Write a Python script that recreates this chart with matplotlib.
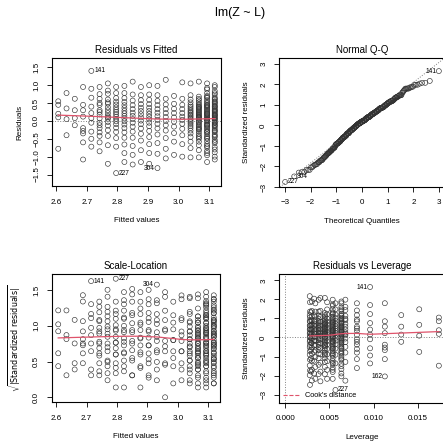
import statistics

import matplotlib
matplotlib.use("Agg")
import matplotlib.pyplot as plt
import numpy as np

plt.rcParams["font.family"] = ["Liberation Sans", "DejaVu Sans"]

W, H = 443, 447
RED = "#DF536B"

# fitted value of each level of L
fitted_levels = [2.607, 2.634, 2.661, 2.688, 2.715, 2.742, 2.769, 2.796, 2.823, 2.850,
                 2.877, 2.904, 2.931, 2.958, 2.985, 3.012, 3.039, 3.066, 3.093, 3.118]

resid_00 = [0.55, 0.45, 0.20, 0.10, -0.78]
resid_01 = [0.78, 0.35, 0.05, -0.40]
resid_02 = [0.62, 0.30, 0.08, -0.12]
resid_03 = [0.95, 0.45, 0.30, 0.12, -0.20, -0.28, -0.35, -0.60, -1.08]
resid_04 = [1.40, 0.90, 0.65, 0.40, 0.22, 0.08, -0.05, -0.30, -0.50, -0.72]
resid_05 = [0.95, 0.62, 0.50, 0.45, 0.30, 0.18, 0.07, -0.05, -0.20, -0.42, -0.60, -0.85,
            0.75, 0.25, -0.12, -0.32]
resid_06 = [1.05, 0.76, 0.60, 0.48, 0.38, 0.30, 0.22, 0.14, 0.06, -0.03, -0.13, -0.26,
            -0.42, -0.68, -1.20, 0.85, 0.52, 0.10]
resid_07 = [0.95, 0.78, 0.64, 0.54, 0.46, 0.38, 0.31, 0.25, 0.19, 0.12, 0.06, -0.01,
            -0.09, -0.19, -0.31, -0.48, -0.72, -1.46]
resid_08 = [0.98, 0.78, 0.64, 0.53, 0.44, 0.36, 0.28, 0.21, 0.14, 0.07, -0.01, -0.10,
            -0.20, -0.32, -0.47, -0.66, -0.90, -1.15]
resid_09 = [1.10, 0.74, 0.57, 0.44, 0.33, 0.23, 0.14, 0.05, -0.05, -0.16, -0.30, -0.47,
            -0.70, -0.95, -1.22]
resid_10 = [0.95, 0.72, 0.58, 0.47, 0.37, 0.28, 0.19, 0.10, 0.01, -0.09, -0.21, -0.36,
            -0.55, -0.82, -1.15]
resid_11 = [1.00, 0.74, 0.59, 0.47, 0.37, 0.28, 0.20, 0.12, 0.04, -0.05, -0.15, -0.28,
            -0.45, -0.65, -0.90, -1.20]
resid_12 = [0.98, 0.72, 0.56, 0.44, 0.33, 0.23, 0.13, 0.03, -0.08, -0.21, -0.38, -0.62,
            -0.92, -1.32]
resid_13 = [1.15, 0.62, 0.46, 0.33, 0.22, 0.11, 0.00, -0.12, -0.27, -0.48, -0.78, -1.05]
resid_14 = [0.70, 0.48, 0.34, 0.22, 0.10, -0.02, -0.16, -0.34, -0.58, -0.95]
resid_15 = [1.08, 0.62, 0.45, 0.33, 0.22, 0.12, 0.03, -0.08, -0.22, -0.40, -0.65, -1.00]
resid_16 = [1.05, 0.72, 0.60, 0.52, 0.45, 0.40, 0.35, 0.30, 0.26, 0.22, 0.18, 0.14,
            0.10, 0.06, 0.02, -0.03, -0.08, -0.14, -0.20, -0.27, -0.35, -0.45, -0.58,
            -0.76, -1.02]
resid_17 = [1.10, 0.68, 0.58, 0.52, 0.47, 0.43, 0.40, 0.36, 0.33, 0.30, 0.27, 0.24,
            0.21, 0.18, 0.16, 0.13, 0.10, 0.08, 0.05, 0.02, -0.01, -0.04, -0.08, -0.12,
            -0.16, -0.20, -0.25, -0.30, -0.36, -0.42, -0.50, -0.58, -0.68, -0.82, -1.02,
            0.62, 0.38, 0.11, -0.22, -0.46]
resid_18 = [1.05, 0.88, 0.78, 0.70, 0.64, 0.58, 0.53, 0.49, 0.45, 0.41, 0.38, 0.35,
            0.31, 0.28, 0.25, 0.22, 0.19, 0.16, 0.13, 0.10, 0.07, 0.04, 0.01, -0.02,
            -0.06, -0.10, -0.14, -0.18, -0.22, -0.27, -0.32, -0.37, -0.43, -0.50,
            -0.57, -0.65, -0.74, -0.84, -0.96, -1.15,
            0.92, 0.67, 0.43, 0.20, 0.03, -0.12, -0.30, -0.47, -0.70, -0.90]
resid_19 = [1.00, 0.84, 0.74, 0.66, 0.60, 0.55, 0.50, 0.46, 0.42, 0.38, 0.34, 0.31,
            0.27, 0.24, 0.21, 0.18, 0.15, 0.12, 0.09, 0.05, 0.02, -0.02, -0.06, -0.10,
            -0.15, -0.20, -0.25, -0.31, -0.38, -0.45, -0.53, -0.62, -0.73, -0.88, -1.08,
            0.95, 0.78, 0.62, 0.52, 0.40, 0.29, 0.16, 0.07, -0.04, -0.13, -0.28, -0.42,
            -0.58, -0.80, -1.00]

resid_lists = [resid_00, resid_01, resid_02, resid_03, resid_04, resid_05, resid_06,
               resid_07, resid_08, resid_09, resid_10, resid_11, resid_12, resid_13,
               resid_14, resid_15, resid_16, resid_17, resid_18, resid_19]

# row names of the labelled observations: (level, position in its list)
point_names = {(4, 0): "141", (7, 17): "227", (12, 13): "304",
               (0, 4): "334", (3, 8): "162", (3, 0): "321"}

fit = np.concatenate([[f] * len(r) for f, r in zip(fitted_levels, resid_lists)])
res = np.concatenate([np.array(r, float) for r in resid_lists])
keys = [(i, j) for i, r in enumerate(resid_lists) for j in range(len(r))]
names = [point_names.get(k, str(n + 1)) for n, k in enumerate(keys)]

n = len(res)
p = 2
s = np.sqrt(np.sum(res ** 2) / (n - p))
hat = 1 / n + (fit - fit.mean()) ** 2 / np.sum((fit - fit.mean()) ** 2)
rs = res / (s * np.sqrt(1 - hat))
cook = rs ** 2 * hat / (p * (1 - hat))


def lowess(x, y, f=2 / 3, iters=3):
    order = np.argsort(x, kind="stable")
    x, y = x[order], y[order]
    m = len(x)
    k = int(np.ceil(f * m))
    out = np.zeros(m)
    rob = np.ones(m)
    for it in range(iters + 1):
        for i in range(m):
            d = np.abs(x - x[i])
            h = max(np.sort(d)[k - 1], 1e-12)
            w = np.clip(d / h, 0, 1)
            w = (1 - w ** 3) ** 3 * rob
            sw = w.sum()
            xm, ym = (w * x).sum() / sw, (w * y).sum() / sw
            sxx = (w * (x - xm) ** 2).sum()
            b = (w * (x - xm) * (y - ym)).sum() / sxx if sxx > 1e-12 else 0.0
            out[i] = ym + b * (x[i] - xm)
        e = y - out
        sc = 6 * np.median(np.abs(e))
        u = np.clip(e / sc, -1, 1)
        rob = (1 - u ** 2) ** 2
    return x, out


def padded(lo, hi, f=0.04):
    d = hi - lo
    return lo - f * d, hi + f * d


def r_axes(box):
    l, t, r, b = box
    ax = fig.add_axes([l / W, 1 - b / H, (r - l) / W, (b - t) / H])
    for sp in ax.spines.values():
        sp.set_linewidth(0.8)
    ax.tick_params(direction="out", length=3.5, width=0.6, labelsize=5.8, pad=5.5)
    ax.tick_params(axis="y", labelrotation=90, pad=5.0)
    return ax


def finish(ax, title, xlabel, ylabel):
    plt.setp(ax.get_yticklabels(), va="center")
    ax.text(0.5, 1.065, title, transform=ax.transAxes, ha="center", va="center",
            fontsize=7)
    ax.set_xlabel(xlabel, fontsize=5.8, labelpad=8)
    ax.set_ylabel(ylabel, fontsize=5.8, labelpad=7)


def label_points(ax, x, y, idx, xr):
    mid = np.mean(xr)
    for i in idx:
        right = x[i] <= mid
        ax.annotate(names[i], (x[i], y[i]), xytext=(2 if right else -2, 0),
                    textcoords="offset points", ha="left" if right else "right",
                    va="center", fontsize=4.8, annotation_clip=False)


fig = plt.figure(figsize=(W / 100, H / 100), dpi=100)
fig.text(240 / W, 1 - 13 / H, "lm(Z ~ L)", ha="center", va="center", fontsize=9)

pt = dict(marker="o", s=13, facecolors="none", edgecolors="#333333", linewidths=0.45)
top3 = np.argsort(-np.abs(rs))[:3]

# Residuals vs Fitted
ax = r_axes((52, 58, 221, 186))
ax.scatter(fit, res, **pt)
ax.axhline(0, color="gray", lw=0.7, ls=":")
lx, ly = lowess(fit, res)
ax.plot(lx, ly, color=RED, lw=0.9)
xr = (fit.min(), fit.max())
ax.set_xlim(*padded(*xr))
yl = (res.min(), res.max())
ax.set_ylim(*padded(*padded(*yl, f=0.08)))
ax.set_xticks([2.6, 2.7, 2.8, 2.9, 3.0, 3.1])
ax.set_yticks([-1.5, -1.0, -0.5, 0.0, 0.5, 1.0, 1.5])
label_points(ax, fit, res, np.argsort(-np.abs(res))[:3], xr)
finish(ax, "Residuals vs Fitted", "Fitted values", "Residuals")

# Normal Q-Q
nd = statistics.NormalDist()
order = np.argsort(rs)
qx = np.empty(n)
qx[order] = [nd.inv_cdf((i + 0.5) / n) for i in range(n)]
ax = r_axes((279, 58, 445, 187))
ax.scatter(qx, rs, **pt)
q1, q3 = np.quantile(rs, [0.25, 0.75])
z1, z3 = nd.inv_cdf(0.25), nd.inv_cdf(0.75)
slope = (q3 - q1) / (z3 - z1)
ax.axline((z1, q1), slope=slope, color="gray", lw=0.7, ls=":")
ylo, yhi = rs.min(), rs.max()
yhi = yhi + (yhi - ylo) * 0.075
ax.set_xlim(*padded(qx.min(), qx.max()))
ax.set_ylim(*padded(ylo, yhi))
ax.set_xticks(range(-3, 4))
ax.set_yticks(range(-3, 4))
label_points(ax, qx, rs, top3, (qx.min(), qx.max()))
finish(ax, "Normal Q-Q", "Theoretical Quantiles", "Standardized residuals")

# Scale-Location
srs = np.sqrt(np.abs(rs))
ax = r_axes((52, 274, 220, 402))
ax.scatter(fit, srs, **pt)
lx, ly = lowess(fit, srs)
ax.plot(lx, ly, color=RED, lw=0.9)
ax.set_xlim(*padded(*xr))
ax.set_ylim(*padded(0, srs.max()))
ax.set_xticks([2.6, 2.7, 2.8, 2.9, 3.0, 3.1])
ax.set_yticks([0.0, 0.5, 1.0, 1.5])
label_points(ax, fit, srs, top3, xr)
finish(ax, "Scale-Location", "Fitted values",
       r"$\sqrt{|\mathrm{Standardized\ residuals}|}$")

# Residuals vs Leverage
ax = r_axes((279, 274, 445, 403))
ax.scatter(hat, rs, **pt)
ax.axhline(0, color="gray", lw=0.7, ls=":")
ax.axvline(0, color="gray", lw=0.7, ls=":")
lx, ly = lowess(hat, rs)
ax.plot(lx, ly, color=RED, lw=0.9)
ax.set_xlim(*padded(0, hat.max()))
ax.set_ylim(*padded(*padded(rs.min(), rs.max(), f=0.08)))
ax.set_xticks([0.0, 0.005, 0.010, 0.015])
ax.set_xticklabels(["0.000", "0.005", "0.010", "0.015"])
ax.set_yticks(range(-3, 4))
label_points(ax, hat, rs, np.argsort(-cook)[:3], (0, hat.max()))
ax.plot([], [], color=RED, lw=0.8, ls="--", label="Cook's distance")
ax.legend(loc="lower left", frameon=False, fontsize=5.3, handlelength=2.2,
          borderaxespad=0.1)
finish(ax, "Residuals vs Leverage", "Leverage", "Standardized residuals")

fig.savefig("out.png", dpi=100)
